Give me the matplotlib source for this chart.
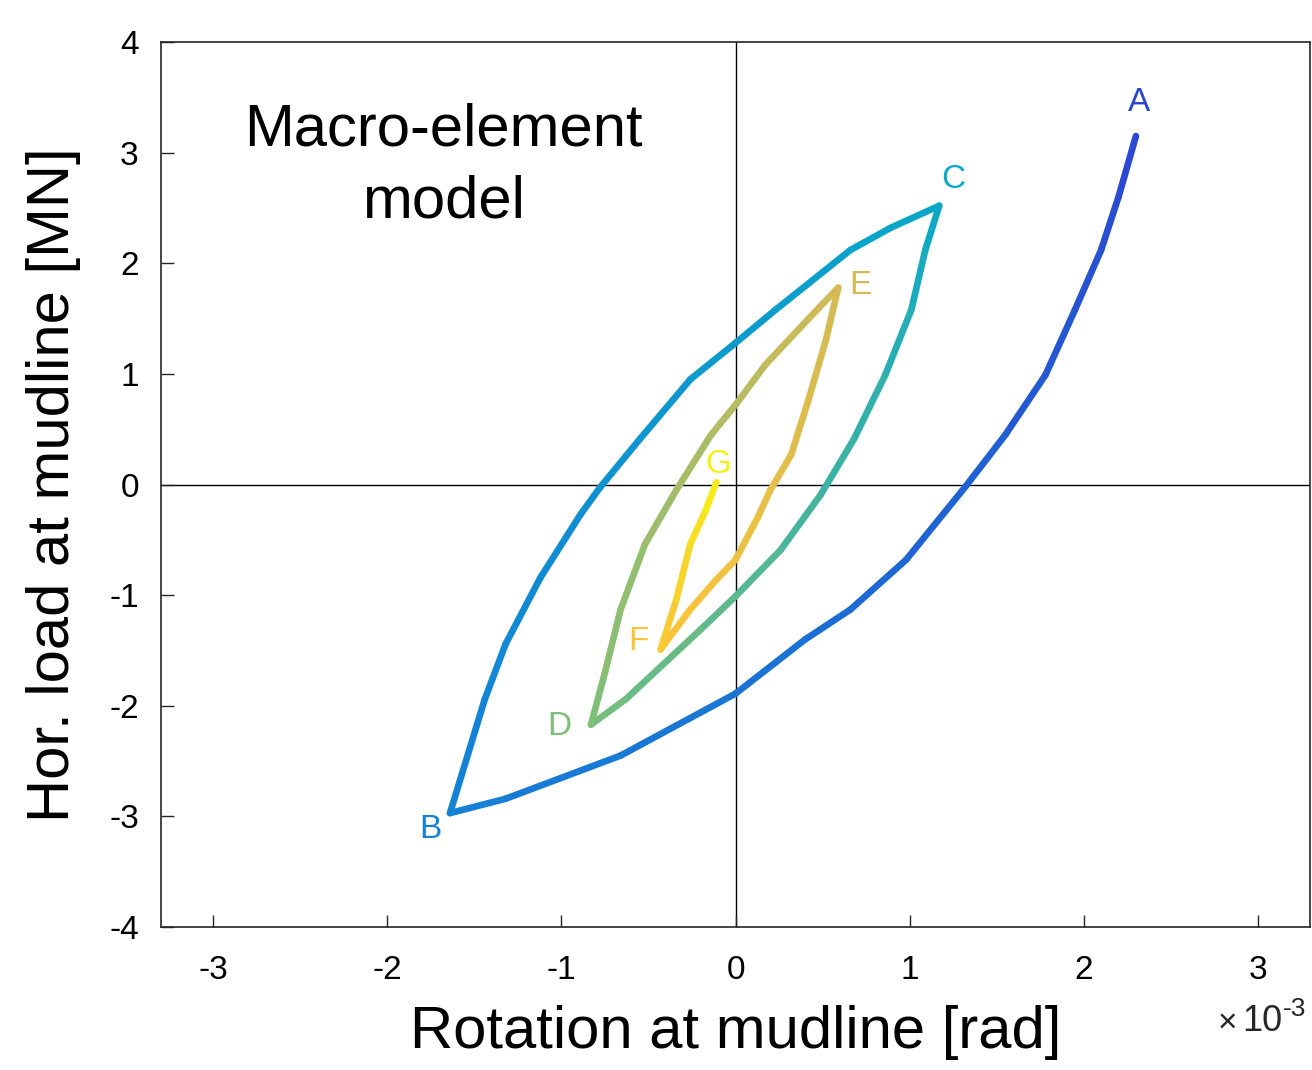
import numpy as np
import matplotlib
matplotlib.use("Agg")
import matplotlib.pyplot as plt
from matplotlib.collections import LineCollection
from matplotlib.colors import LinearSegmentedColormap

plt.rcParams["font.family"] = ["Liberation Sans", "DejaVu Sans"]
plt.rcParams["axes.unicode_minus"] = False

# rotation in 1e-3 rad, load in MN, branch by branch (A->B->C->D->E->F->G)
ab_x = [2.30, 2.20, 2.10, 1.95, 1.78, 1.55, 1.32, 0.98, 0.66, 0.40, 0.00, -0.66, -1.32, -1.64]
ab_y = [3.15, 2.60, 2.12, 1.58, 0.99, 0.45, -0.02, -0.68, -1.13, -1.40, -1.89, -2.45, -2.84, -2.97]
bc_x = [-1.64, -1.44, -1.32, -1.12, -0.89, -0.78, -0.55, -0.26, 0.00, 0.23, 0.66, 0.89, 1.17]
bc_y = [-2.97, -1.94, -1.44, -0.84, -0.27, -0.03, 0.41, 0.95, 1.28, 1.58, 2.12, 2.32, 2.52]
cd_x = [1.17, 1.09, 1.01, 0.86, 0.68, 0.49, 0.26, 0.00, -0.20, -0.63, -0.83]
cd_y = [2.52, 2.12, 1.58, 0.99, 0.41, -0.09, -0.59, -1.01, -1.31, -1.94, -2.17]
de_x = [-0.83, -0.75, -0.66, -0.52, -0.34, -0.14, 0.00, 0.17, 0.42, 0.59]
de_y = [-2.17, -1.70, -1.13, -0.54, -0.05, 0.45, 0.72, 1.08, 1.50, 1.78]
ef_x = [0.59, 0.52, 0.42, 0.32, 0.20, 0.13, 0.00, -0.11, -0.26, -0.43]
ef_y = [1.78, 1.31, 0.77, 0.27, -0.05, -0.29, -0.68, -0.86, -1.13, -1.49]
fg_x = [-0.43, -0.34, -0.26, -0.17, -0.11]
fg_y = [-1.49, -1.04, -0.54, -0.23, 0.02]

branches = [(ab_x, ab_y), (bc_x, bc_y), (cd_x, cd_y), (de_x, de_y), (ef_x, ef_y), (fg_x, fg_y)]

point_names = ["A", "B", "C", "D", "E", "F", "G"]
label_x = [2.32, -1.75, 1.25, -1.01, 0.72, -0.56, -0.10]
label_y = [3.45, -3.12, 2.76, -2.19, 1.80, -1.42, 0.18]

# parula-like colours at the turning points
key_colors = ["#2b47d1", "#1482d6", "#08a8c8", "#7bbf7a", "#d3ba55", "#fac53a", "#f5ef15"]
cmap = LinearSegmentedColormap.from_list("parula_like",
                                         list(zip(np.linspace(0, 1, 7), key_colors)))

fig = plt.figure(figsize=(13.12, 10.70), dpi=100)
ax = fig.add_axes([0.1227, 0.1336, 0.8758, 0.8271])

ax.axhline(0, color="k", linewidth=1.0, zorder=1)
ax.axvline(0, color="k", linewidth=1.0, zorder=1)

segs = []
cols = []
for k, (bx, by) in enumerate(branches):
    n = len(bx)
    t = np.linspace(k / 6, (k + 1) / 6, n)
    for i in range(n - 1):
        segs.append([(bx[i], by[i]), (bx[i + 1], by[i + 1])])
        cols.append(cmap(0.5 * (t[i] + t[i + 1])))
lc = LineCollection(segs, colors=cols, linewidths=4.8, capstyle="round", zorder=2)
ax.add_collection(lc)

for k, name in enumerate(point_names):
    ax.text(label_x[k], label_y[k], name, color=cmap(k / 6), fontsize=24,
            ha="center", va="center")

ax.text(-1.68, 2.88, "Macro-element\nmodel", fontsize=43, ha="center", va="center",
        linespacing=1.4)

ax.set_xlim(-3.3, 3.3)
ax.set_ylim(-4, 4)
ax.set_xticks([-3, -2, -1, 0, 1, 2, 3])
ax.set_yticks([-4, -3, -2, -1, 0, 1, 2, 3, 4])
ax.tick_params(direction="in", length=9, width=1, labelsize=24, color="#262626")
ax.tick_params(axis="x", pad=20)
ax.tick_params(axis="y", pad=16)
for s in ax.spines.values():
    s.set_color("#262626")
    s.set_linewidth(1.2)

ax.set_xlabel("Rotation at mudline [rad]", fontsize=43, labelpad=14)
ax.set_ylabel("Hor. load at mudline [MN]", fontsize=43, labelpad=20)

# axis multiplier, drawn like the MATLAB one
fig.text(0.928, 0.036, "\u00d7", fontsize=24, ha="left", va="baseline", color="#262626")
fig.text(0.947, 0.036, "10", fontsize=26, ha="left", va="baseline", color="#262626")
fig.text(0.978, 0.050, "-3", fontsize=19, ha="left", va="baseline", color="#262626")

plt.savefig("out.png", dpi=100)
